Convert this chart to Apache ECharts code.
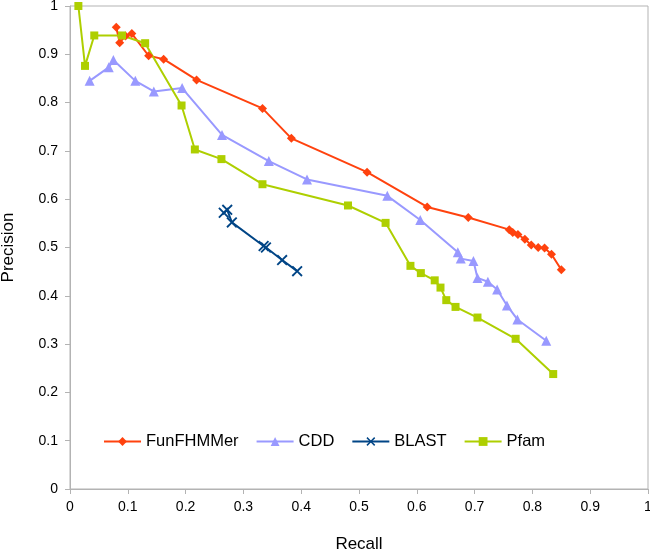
<!DOCTYPE html>
<html><head><meta charset="utf-8">
<script src="https://cdn.jsdelivr.net/npm/echarts@6/dist/echarts.min.js"></script>
<style>html,body{margin:0;padding:0;background:#fff}#c{width:650px;height:553px}</style>
</head><body><div id="c"></div>
<script>
const seriesNames = ['FunFHMMer', 'CDD', 'BLAST', 'Pfam'];
const funfhmmer = [[0.080,0.956],[0.086,0.924],[0.096,0.938],[0.107,0.943],[0.136,0.897],[0.162,0.890],[0.219,0.847],[0.333,0.788],[0.383,0.726],[0.514,0.656],[0.618,0.584],[0.689,0.562],[0.760,0.537],[0.766,0.531],[0.775,0.527],[0.787,0.517],[0.798,0.505],[0.810,0.500],[0.821,0.499],[0.833,0.486],[0.850,0.454]];
const cdd = [[0.034,0.845],[0.067,0.873],[0.075,0.888],[0.113,0.845],[0.145,0.823],[0.194,0.830],[0.263,0.733],[0.344,0.679],[0.410,0.641],[0.549,0.607],[0.606,0.557],[0.671,0.490],[0.676,0.477],[0.698,0.472],[0.705,0.437],[0.723,0.429],[0.739,0.413],[0.756,0.380],[0.774,0.351],[0.824,0.307]];
const blast = [[0.266,0.572],[0.272,0.578],[0.280,0.552],[0.335,0.503],[0.339,0.500],[0.367,0.474],[0.393,0.451]];
const pfam = [[0.0145,1.0],[0.026,0.876],[0.042,0.939],[0.090,0.939],[0.130,0.923],[0.193,0.794],[0.216,0.703],[0.262,0.683],[0.333,0.631],[0.481,0.587],[0.546,0.551],[0.589,0.462],[0.607,0.447],[0.631,0.432],[0.641,0.417],[0.651,0.391],[0.667,0.377],[0.705,0.355],[0.771,0.311],[0.836,0.238]];
const xTicks = [0,0.1,0.2,0.3,0.4,0.5,0.6,0.7,0.8,0.9,1];
const yTicks = [0,0.1,0.2,0.3,0.4,0.5,0.6,0.7,0.8,0.9,1];

const colors = ['#ff420e', '#9999ff', '#004586', '#aecf00'];
const xPath = 'path://M0,1.2L1.2,0L5,3.8L8.8,0L10,1.2L6.2,5L10,8.8L8.8,10L5,6.2L1.2,10L0,8.8L3.8,5Z';
const symbols = ['diamond', 'triangle', xPath, 'rect'];
const sizes = [9, 10, 11, 8];
const datas = [funfhmmer, cdd, blast, pfam];
const font = 'Liberation Sans, Arial, sans-serif';
const axisCol = '#b3b3b3';

const chart = echarts.init(document.getElementById('c'), null, {renderer: 'canvas'});
chart.setOption({
  animation: false,
  color: colors,
  grid: {left: 70, right: 2, top: 6, bottom: 64, show: true, borderColor: axisCol, borderWidth: 1,
         containLabel: false, outerBoundsMode: 'none'},
  legend: {
    left: 98, top: 428, itemWidth: 37, itemHeight: 11, itemGap: 17,
    textStyle: {fontFamily: font, fontSize: 16.5, color: '#000', padding: [0, 0, 0, 0]},
    data: seriesNames
  },
  xAxis: {
    type: 'value', min: 0, max: 1, interval: 0.1,
    name: 'Recall', nameLocation: 'middle', nameGap: 47,
    nameTextStyle: {fontFamily: font, fontSize: 17, color: '#000'},
    axisLine: {show: true, lineStyle: {color: axisCol}},
    axisTick: {show: true, length: 5, lineStyle: {color: axisCol}},
    splitLine: {show: false},
    axisLabel: {fontFamily: font, fontSize: 14, color: '#000', margin: 11,
      formatter: v => { const t = xTicks.find(k => Math.abs(k - v) < 1e-9); return t === undefined ? '' : String(t); }}
  },
  yAxis: {
    type: 'value', min: 0, max: 1, interval: 0.1,
    name: 'Precision', nameLocation: 'middle', nameGap: 53, nameRotate: 90,
    nameTextStyle: {fontFamily: font, fontSize: 17, color: '#000'},
    axisLine: {show: true, lineStyle: {color: axisCol}},
    axisTick: {show: true, length: 5, lineStyle: {color: axisCol}},
    splitLine: {show: false},
    axisLabel: {fontFamily: font, fontSize: 14, color: '#000', margin: 12,
      formatter: v => { const t = yTicks.find(k => Math.abs(k - v) < 1e-9); return t === undefined ? '' : String(t); }}
  },
  series: seriesNames.map((n, i) => ({
    name: n, type: 'line', data: datas[i],
    symbol: symbols[i], symbolSize: sizes[i], showSymbol: true,
    lineStyle: {width: 2, color: colors[i]},
    itemStyle: {color: colors[i], borderWidth: 0},
    emphasis: {disabled: true}
  }))
});
</script></body></html>
